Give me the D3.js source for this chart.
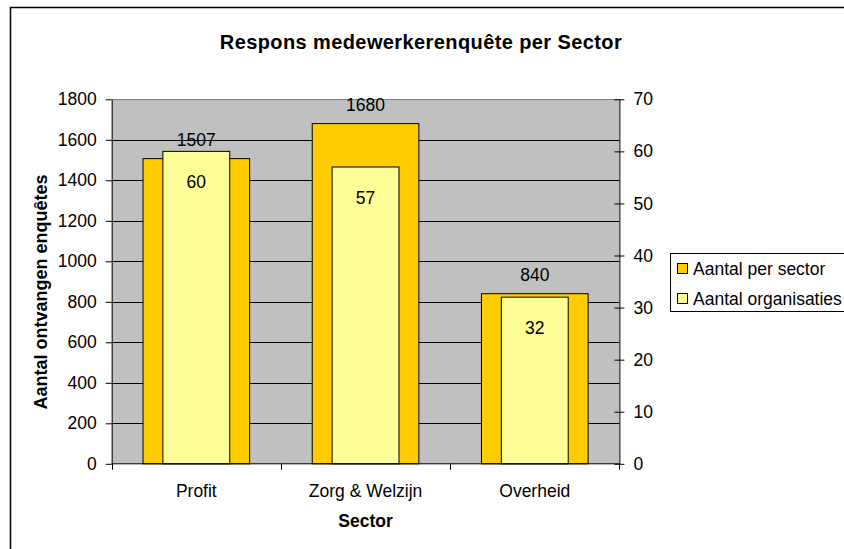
<!DOCTYPE html>
<html>
<head>
<meta charset="utf-8">
<script src="https://cdn.jsdelivr.net/npm/d3@7"></script>
<style>
  body { margin: 0; background: #fff; }
  svg { display: block; font-family: "Liberation Sans", Arial, sans-serif; }
</style>
</head>
<body>
<script>
// data
var sectors = ["Profit", "Zorg & Welzijn", "Overheid"];
var perSector = [1507, 1680, 840];        // primary axis
var organisaties = [60, 57, 32];          // secondary axis
var leftTicks = [0, 200, 400, 600, 800, 1000, 1200, 1400, 1600, 1800];
var rightTicks = [0, 10, 20, 30, 40, 50, 60, 70];
var seriesNames = ["Aantal per sector", "Aantal organisaties"];
var seriesColors = ["#ffcc00", "#ffff99"];

var W = 844, H = 549;
var plot = { left: 111.7, right: 619.4, top: 99.3, bottom: 463.8 };

var svg = d3.select("body").append("svg").attr("width", W).attr("height", H);

// outer chart border
svg.append("rect")
   .attr("x", 10.5).attr("y", 7.5)
   .attr("width", 900).attr("height", 600)
   .attr("fill", "#fff").attr("stroke", "#000").attr("stroke-width", 1.5);

var x = d3.scaleBand().domain(sectors).range([plot.left, plot.right]).padding(0);
var y = d3.scaleLinear().domain([0, 1800]).range([plot.bottom, plot.top]);
var y2 = d3.scaleLinear().domain([0, 70]).range([plot.bottom, plot.top]);

// plot background
svg.append("rect")
   .attr("x", plot.left).attr("y", plot.top)
   .attr("width", plot.right - plot.left).attr("height", plot.bottom - plot.top)
   .attr("fill", "#c0c0c0");

// gridlines
svg.append("g").selectAll("line")
   .data(leftTicks.filter(function(d){ return d > 0; }))
   .enter().append("line")
   .attr("x1", plot.left).attr("x2", plot.right)
   .attr("y1", function(d){ return Math.round(y(d)) + 0.5; })
   .attr("y2", function(d){ return Math.round(y(d)) + 0.5; })
   .attr("stroke", function(d){ return d === 1800 ? "#808080" : "#000"; })
   .attr("stroke-width", 1);

// bars
var bw = x.bandwidth();
svg.append("g").selectAll("rect")
   .data(perSector)
   .enter().append("rect")
   .attr("x", function(d, i){ return x(sectors[i]) + bw * (1 - 0.63) / 2; })
   .attr("y", function(d){ return y(d); })
   .attr("width", bw * 0.63)
   .attr("height", function(d){ return plot.bottom - y(d); })
   .attr("fill", seriesColors[0]).attr("stroke", "#000").attr("stroke-width", 1);

svg.append("g").selectAll("rect")
   .data(organisaties)
   .enter().append("rect")
   .attr("x", function(d, i){ return x(sectors[i]) + bw * (1 - 0.395) / 2; })
   .attr("y", function(d){ return y2(d); })
   .attr("width", bw * 0.395)
   .attr("height", function(d){ return plot.bottom - y2(d); })
   .attr("fill", seriesColors[1]).attr("stroke", "#000").attr("stroke-width", 1);

// data labels
svg.append("g").selectAll("text")
   .data(perSector)
   .enter().append("text")
   .attr("x", function(d, i){ return x(sectors[i]) + bw / 2; })
   .attr("y", function(d){ return y(d) - 13; })
   .attr("text-anchor", "middle").attr("font-size", 17.5)
   .text(function(d){ return d; });

svg.append("g").selectAll("text")
   .data(organisaties)
   .enter().append("text")
   .attr("x", function(d, i){ return x(sectors[i]) + bw / 2; })
   .attr("y", function(d){ return y2(d) + 37; })
   .attr("text-anchor", "middle").attr("font-size", 17.5)
   .text(function(d){ return d; });

// left axis
svg.append("g")
   .attr("transform", "translate(" + plot.left + ",0)")
   .call(d3.axisLeft(y).tickValues(leftTicks).tickFormat(d3.format("d"))
          .tickSize(6).tickPadding(9).tickSizeOuter(0));

// right axis
var rightAxis = svg.append("g")
   .attr("transform", "translate(" + plot.right + ",0)")
   .call(d3.axisRight(y2).tickValues(rightTicks).tickFormat(d3.format("d"))
          .tickSize(5).tickPadding(9).tickSizeOuter(0));
rightAxis.selectAll(".tick line").attr("x1", -5);

// bottom axis: ticks at band boundaries
var bottomAxis = svg.append("g");
bottomAxis.append("line")
   .attr("x1", plot.left).attr("x2", plot.right)
   .attr("y1", plot.bottom).attr("y2", plot.bottom)
   .attr("stroke", "#000");
bottomAxis.selectAll(".btick")
   .data(sectors.concat(["end"]))
   .enter().append("line")
   .attr("class", "btick")
   .attr("x1", function(d, i){ return Math.round(i < sectors.length ? x(d) : plot.right) + 0.5; })
   .attr("x2", function(d, i){ return Math.round(i < sectors.length ? x(d) : plot.right) + 0.5; })
   .attr("y1", plot.bottom).attr("y2", plot.bottom + 6)
   .attr("stroke", "#000");
bottomAxis.selectAll(".blabel")
   .data(sectors)
   .enter().append("text")
   .attr("class", "blabel")
   .attr("x", function(d){ return x(d) + bw / 2; })
   .attr("y", 497)
   .attr("text-anchor", "middle").attr("font-size", 17.5)
   .text(function(d){ return d; });

svg.selectAll(".tick text").attr("font-size", 17.5).attr("fill", "#000")
   .attr("font-family", "Liberation Sans, Arial, sans-serif");
svg.selectAll(".domain, .tick line").attr("stroke", "#000");

// titles
svg.append("text")
   .attr("x", 421).attr("y", 49)
   .attr("text-anchor", "middle").attr("font-size", 20).attr("font-weight", "bold")
   .attr("letter-spacing", 0.4)
   .text("Respons medewerkerenquête per Sector");

svg.append("text")
   .attr("x", (plot.left + plot.right) / 2).attr("y", 527)
   .attr("text-anchor", "middle").attr("font-size", 17.5).attr("font-weight", "bold")
   .text("Sector");

svg.append("text")
   .attr("transform", "translate(47," + 292 + ") rotate(-90)")
   .attr("text-anchor", "middle").attr("font-size", 18).attr("font-weight", "bold")
   .text("Aantal ontvangen enquêtes");

// legend
var legend = svg.append("g");
legend.append("rect")
   .attr("x", 670.5).attr("y", 253.5)
   .attr("width", 200).attr("height", 58)
   .attr("fill", "#fff").attr("stroke", "#000").attr("stroke-width", 1);
var item = legend.selectAll(".item")
   .data(seriesNames)
   .enter().append("g")
   .attr("class", "item")
   .attr("transform", function(d, i){ return "translate(0," + (268.5 + i * 30) + ")"; });
item.append("rect")
   .attr("x", 677.5).attr("y", -5)
   .attr("width", 10).attr("height", 10)
   .attr("fill", function(d, i){ return seriesColors[i]; })
   .attr("stroke", "#000");
item.append("text")
   .attr("x", 693).attr("y", 6)
   .attr("font-size", 17.5)
   .text(function(d){ return d; });
</script>
</body>
</html>
